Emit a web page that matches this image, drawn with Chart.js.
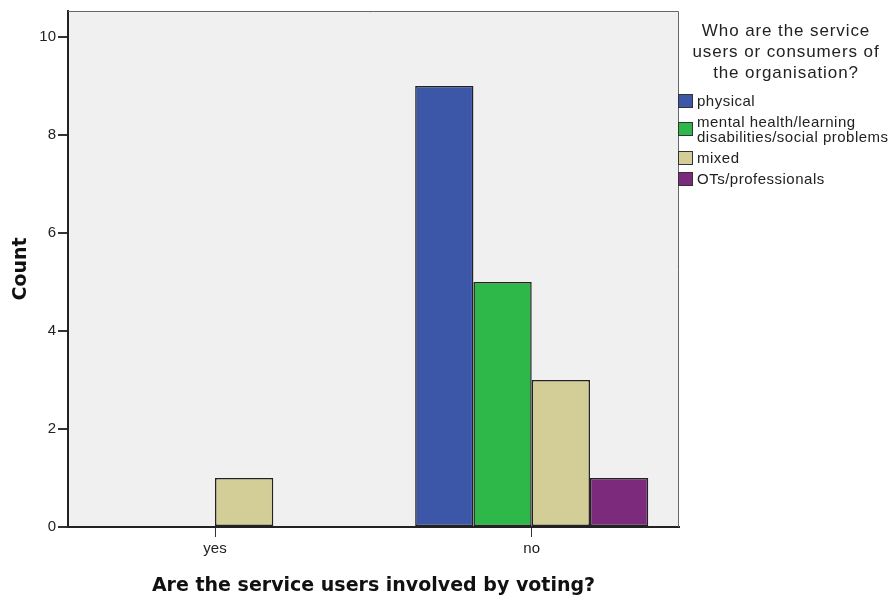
<!DOCTYPE html>
<html>
<head>
<meta charset="utf-8">
<script src="https://cdn.jsdelivr.net/npm/chart.js@4/dist/chart.umd.min.js"></script>
<style>
    body { margin: 0; background: #fff; }
    #wrap { position: relative; width: 894px; height: 597px; }
    #legendTitle {
        position: absolute; left: 688px; top: 20px; width: 196px;
        text-align: center; font: 17px "Liberation Sans", Arial, sans-serif;
        letter-spacing: 0.9px; line-height: 21px; color: #222;
    }
    #legendItems {
        position: absolute; left: 678px; top: 90px;
        font: 15px "Liberation Sans", Arial, sans-serif; color: #222;
        letter-spacing: 0.5px;
    }
    .item { display: flex; align-items: center; padding: 3px 0; line-height: 15px; }
    .box { width: 13px; height: 12px; border: 1px solid #333; margin-right: 4px; flex: none; }
</style>
</head>
<body>
<div id="wrap">
    <canvas id="grafico" width="894" height="597"></canvas>
    <div id="legendTitle">Who are the service<br>users or consumers of<br>the organisation?</div>
    <div id="legendItems"></div>
</div>
<script>
// categorias del eje x
const categorias = ["yes", "no"];
const posiciones = [0, 1];

// series (null = sin barra)
const nombresSeries = [
    "physical",
    "mental health/learning\ndisabilities/social problems",
    "mixed",
    "OTs/professionals"
];
const physical = [null, 9];
const mentalHealth = [null, 5];
const mixed = [1, 3];
const professionals = [null, 1];

const colores = ["#3d57a8", "#2eb84a", "#d3ce97", "#7b2a7c"];

const valores = [physical, mentalHealth, mixed, professionals];

const datasets = valores.map((serie, i) => ({
    label: nombresSeries[i].replace("\n", " "),
    data: serie.map((v, j) => ({ x: posiciones[j], y: v })),
    backgroundColor: colores[i],
    borderColor: "#222",
    borderWidth: 1.5,
    borderSkipped: false,
    categoryPercentage: 0.736,
    barPercentage: 1
}));

// fondo gris y borde del area
const fondoArea = {
    id: "fondoArea",
    beforeDraw(chart) {
        const { ctx, chartArea: a } = chart;
        ctx.save();
        ctx.fillStyle = "#f0f0f0";
        ctx.fillRect(a.left, a.top, a.right - a.left, a.bottom - a.top);
        ctx.restore();
    },
    afterDraw(chart) {
        const { ctx, chartArea: a } = chart;
        ctx.save();
        ctx.strokeStyle = "#666";
        ctx.lineWidth = 1;
        ctx.beginPath();
        ctx.moveTo(a.left, a.top + 0.5);
        ctx.lineTo(a.right - 0.5, a.top + 0.5);
        ctx.lineTo(a.right - 0.5, a.bottom);
        ctx.stroke();
        ctx.restore();
    }
};

new Chart(document.getElementById("grafico"), {
    type: "bar",
    data: { datasets: datasets },
    plugins: [fondoArea],
    options: {
        responsive: false,
        animation: false,
        layout: { padding: { top: 10, right: 215, left: 0, bottom: 0 } },
        plugins: {
            legend: { display: false },
            tooltip: { enabled: false }
        },
        scales: {
            x: {
                type: "linear",
                offset: false,
                min: -0.4642,
                max: 1.4651,
                afterFit(scale) { scale.height = 70; },
                ticks: {
                    stepSize: 1,
                    includeBounds: false,
                    color: "#222",
                    padding: 3,
                    font: { family: "Liberation Sans", size: 15 },
                    callback: v => categorias[posiciones.indexOf(v)] ?? ""
                },
                grid: { offset: false, drawOnChartArea: false, drawTicks: true, tickLength: 10, color: "#333", lineWidth: 1 },
                border: { display: true, color: "#222", width: 2 },
                title: {
                    display: true,
                    text: "Are the service users involved by voting?",
                    color: "#111",
                    font: { family: "DejaVu Sans", size: 19, weight: "bold" },
                    padding: { top: 4, bottom: 0 }
                }
            },
            y: {
                min: 0,
                max: 10.53,
                afterFit(scale) { scale.width = 68; },
                ticks: {
                    stepSize: 2,
                    includeBounds: false,
                    color: "#222",
                    padding: 2,
                    font: { family: "Liberation Sans", size: 15 }
                },
                grid: { drawOnChartArea: false, drawTicks: true, tickLength: 10, color: "#333", lineWidth: 2 },
                border: { display: true, color: "#222", width: 2 },
                title: {
                    display: true,
                    text: "Count",
                    color: "#111",
                    font: { family: "DejaVu Sans", size: 19, weight: "bold" },
                    padding: { top: 10, bottom: 0 }
                }
            }
        }
    }
});

// leyenda a la derecha
const contenedor = document.getElementById("legendItems");
nombresSeries.forEach((nombre, i) => {
    const fila = document.createElement("div");
    fila.className = "item";
    const caja = document.createElement("span");
    caja.className = "box";
    caja.style.background = colores[i];
    const texto = document.createElement("span");
    texto.innerHTML = nombre.replace("\n", "<br>");
    fila.appendChild(caja);
    fila.appendChild(texto);
    contenedor.appendChild(fila);
});
</script>
</body>
</html>
